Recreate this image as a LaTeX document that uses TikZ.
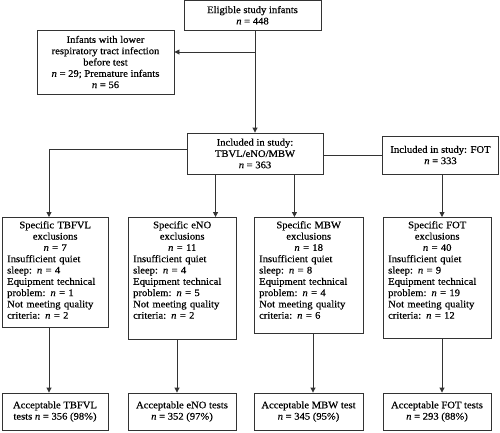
\documentclass[tikz,border=0pt]{standalone}
\usepackage{fontspec}
\setmainfont[FakeStretch=1.06,FakeBold=0.4]{Liberation Serif}
\usetikzlibrary{calc,arrows.meta}
\newcommand\dgfont{\fontsize{10bp}{11.3bp}\selectfont}
\begin{document}
\begin{tikzpicture}[x=1bp,y=-1bp,
  box/.style={draw=black!80, line width=0.9bp, inner sep=0pt, align=center, font=\dgfont},
  frame/.style={draw=black!80, line width=0.9bp, inner sep=0pt, anchor=north west},
  txt/.style={anchor=north west, inner sep=0pt, font=\dgfont},
  ln/.style={draw=black!80, line width=0.9bp},
  arr/.style={ln, -{Triangle[length=5bp,width=5bp]}}]
\useasboundingbox (0,0) rectangle (500,432);

% top boxes
\node[box, minimum width=137bp, minimum height=29.5bp] (elig) at (252.5,15.25) {Eligible study infants\\\textit{n} = 448};
\node[box, minimum width=137bp, minimum height=64bp] (infants) at (105.5,62) {Infants with lower\\respiratory tract infection\\before test\\\textit{n} = 29; Premature infants\\\textit{n} = 56};
\node[box, minimum width=136bp, minimum height=41bp] (incl) at (255,153.5) {Included in study:\\TBVL/eNO/MBW\\\textit{n} = 363};
\node[box, minimum width=116bp, minimum height=38bp] (fot) at (440.5,155) {Included in study: FOT\\\textit{n} = 333};

% exclusion boxes
\node[frame, minimum width=106bp, minimum height=110bp] (ex1) at (2,217) {};
\node[frame, minimum width=108bp, minimum height=122bp] (ex2) at (128,217) {};
\node[frame, minimum width=109bp, minimum height=116bp] (ex3) at (254,217) {};
\node[frame, minimum width=108bp, minimum height=121bp] (ex4) at (383,217) {};

\node[txt, text width=96bp] (ex1t) at ($(ex1.north west)+(5,4)$) {{\centering Specific TBFVL\\exclusions\\\textit{n} = 7\par}\raggedright Insufficient quiet\\sleep: \textit{n} = 4\\Equipment technical\\problem: \textit{n} = 1\\Not meeting quality\\criteria: \textit{n} = 2};
\node[txt, text width=98bp] (ex2t) at ($(ex2.north west)+(5,4)$) {{\centering Specific eNO\\exclusions\\\textit{n} = 11\par}\raggedright Insufficient quiet\\sleep: \textit{n} = 4\\Equipment technical\\problem: \textit{n} = 5\\Not meeting quality\\criteria: \textit{n} = 2};
\node[txt, text width=99bp] (ex3t) at ($(ex3.north west)+(5,4)$) {{\centering Specific MBW\\exclusions\\\textit{n} = 18\par}\raggedright Insufficient quiet\\sleep: \textit{n} = 8\\Equipment technical\\problem: \textit{n} = 4\\Not meeting quality\\criteria: \textit{n} = 6};
\node[txt, text width=98bp] (ex4t) at ($(ex4.north west)+(5,4)$) {{\centering Specific FOT\\exclusions\\\textit{n} = 40\par}\raggedright Insufficient quiet\\sleep: \textit{n} = 9\\Equipment technical\\problem: \textit{n} = 19\\Not meeting quality\\criteria: \textit{n} = 12};

% acceptable boxes
\node[box, minimum width=106bp, minimum height=37bp] (ac1) at (55,411.5) {Acceptable TBFVL\\tests \textit{n} = 356 (98\%)};
\node[box, minimum width=108bp, minimum height=37bp] (ac2) at (182,411.5) {Acceptable eNO tests\\\textit{n} = 352 (97\%)};
\node[box, minimum width=109bp, minimum height=37bp] (ac3) at (308.5,411.5) {Acceptable MBW test\\\textit{n} = 345 (95\%)};
\node[box, minimum width=108bp, minimum height=37bp] (ac4) at (437,411.5) {Acceptable FOT tests\\\textit{n} = 293 (88\%)};

% connectors
\draw[arr] (incl.north |- elig.south) -- (incl.north);
\coordinate (br) at ($(infants.east)+(0,-10)$);
\draw[arr] (br -| incl.north) -- (br);
\coordinate (il) at ($(incl.west)+(0,-4.5)$);
\coordinate (t1) at ($(ex1.north west)+(47,0)$);
\draw[arr] (il) -| (t1);
\draw[ln] (fot.west -| incl.east) -- (fot.west);
\coordinate (a2) at ($(incl.south west)+(29,0)$);
\draw[arr] (a2) -- (a2 |- ex2.north);
\coordinate (a3) at ($(incl.south east)+(-29,0)$);
\draw[arr] (a3) -- (a3 |- ex3.north);
\coordinate (a4) at ($(fot.south)+(1.5,0)$);
\draw[arr] (a4) -- (a4 |- ex4.north);

\coordinate (b1) at ($(ex1.south west)+(47,0)$);
\draw[arr] (b1) -- (b1 |- ac1.north);
\coordinate (b2) at ($(ex2.south west)+(49,0)$);
\draw[arr] (b2) -- (b2 |- ac2.north);
\coordinate (b3) at ($(ex3.south west)+(59,0)$);
\draw[arr] (b3) -- (b3 |- ac3.north);
\coordinate (b4) at ($(ex4.south west)+(59,0)$);
\draw[arr] (b4) -- (b4 |- ac4.north);
\end{tikzpicture}
\end{document}
